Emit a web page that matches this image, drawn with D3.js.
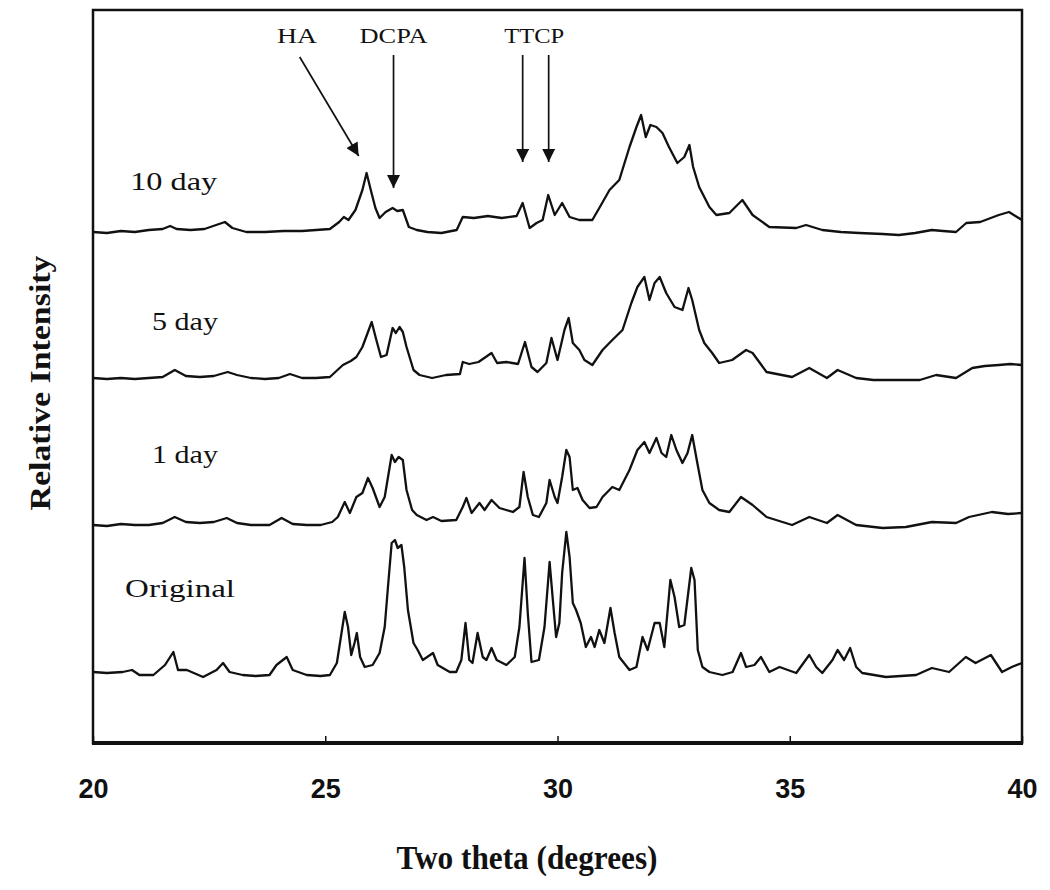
<!DOCTYPE html>
<html>
<head>
<meta charset="utf-8">
<script src="https://cdn.jsdelivr.net/npm/d3@7"></script>
<style>
  body { margin: 0; background: #fff; }
  svg { display: block; }
</style>
</head>
<body>
<div id="chart"></div>
<script>
// [two theta, intensity above the trace's own baseline]
const original = [
  [20.0, 8], [20.3, 7], [20.64, 8], [20.84, 10], [21.0, 5], [21.3, 5], [21.55, 15], [21.73, 28], [21.83, 10],
  [22.02, 10], [22.37, 3], [22.66, 10], [22.8, 17], [22.94, 8], [23.22, 5], [23.5, 4], [23.8, 5], [23.95, 15],
  [24.17, 23], [24.3, 10], [24.6, 5], [24.9, 4], [25.1, 5], [25.25, 17], [25.35, 47], [25.42, 68], [25.49, 53],
  [25.56, 25], [25.63, 37], [25.68, 47], [25.75, 23], [25.85, 13], [26.02, 15], [26.17, 27], [26.28, 53],
  [26.35, 93], [26.43, 137], [26.5, 140], [26.56, 132], [26.64, 135], [26.7, 113], [26.78, 70], [26.9, 37],
  [26.99, 30], [27.1, 20], [27.32, 27], [27.42, 15], [27.68, 8], [27.82, 8], [27.93, 20], [28.02, 57],
  [28.1, 20], [28.17, 17], [28.28, 47], [28.39, 23], [28.47, 20], [28.58, 32], [28.69, 20], [28.9, 15],
  [29.08, 23], [29.18, 53], [29.29, 122], [29.36, 67], [29.44, 18], [29.6, 20], [29.72, 53], [29.83, 118],
  [29.9, 80], [29.97, 43], [30.04, 57], [30.1, 107], [30.19, 148], [30.26, 123], [30.33, 77], [30.4, 70],
  [30.5, 57], [30.61, 33], [30.72, 43], [30.8, 33], [30.9, 50], [31.01, 37], [31.14, 72], [31.23, 47],
  [31.33, 23], [31.55, 10], [31.7, 13], [31.83, 43], [31.94, 30], [32.09, 57], [32.2, 57], [32.3, 33],
  [32.43, 100], [32.52, 83], [32.62, 53], [32.73, 55], [32.88, 112], [32.95, 100], [33.02, 30], [33.12, 13],
  [33.27, 8], [33.55, 5], [33.77, 8], [33.95, 27], [34.06, 13], [34.24, 15], [34.38, 23], [34.56, 8],
  [34.78, 13], [35.14, 7], [35.42, 25], [35.57, 13], [35.7, 7], [35.92, 20], [36.03, 30], [36.17, 20],
  [36.3, 32], [36.43, 13], [36.56, 7], [37.07, 3], [37.72, 5], [38.06, 12], [38.43, 8], [38.79, 23],
  [39.0, 17], [39.33, 25], [39.57, 8], [39.78, 13], [40.0, 17]
];

const day1 = [
  [20.0, 5], [20.3, 4], [20.6, 6], [20.9, 5], [21.2, 5], [21.5, 7], [21.76, 13], [22.0, 8], [22.3, 7],
  [22.6, 8], [22.88, 12], [23.1, 7], [23.4, 5], [23.8, 5], [24.06, 12], [24.3, 6], [24.6, 5], [24.9, 5],
  [25.15, 8], [25.27, 13], [25.42, 28], [25.53, 17], [25.67, 33], [25.8, 37], [25.92, 52], [26.02, 42],
  [26.17, 23], [26.28, 33], [26.43, 75], [26.5, 68], [26.58, 73], [26.67, 70], [26.75, 40], [26.87, 20],
  [26.97, 15], [27.18, 10], [27.32, 13], [27.5, 9], [27.82, 10], [27.96, 23], [28.04, 32], [28.15, 17],
  [28.32, 27], [28.43, 20], [28.58, 30], [28.75, 22], [29.04, 18], [29.18, 23], [29.27, 58], [29.36, 33],
  [29.47, 15], [29.6, 13], [29.76, 27], [29.83, 50], [29.94, 33], [30.0, 27], [30.1, 53], [30.19, 80],
  [30.26, 73], [30.33, 40], [30.43, 42], [30.54, 30], [30.69, 22], [30.84, 23], [30.97, 33], [31.18, 43],
  [31.33, 40], [31.55, 60], [31.72, 80], [31.87, 88], [31.98, 77], [32.13, 92], [32.24, 77], [32.34, 73],
  [32.45, 95], [32.56, 80], [32.69, 67], [32.8, 77], [32.9, 95], [33.01, 67], [33.12, 40], [33.27, 27],
  [33.48, 20], [33.7, 18], [33.95, 33], [34.2, 25], [34.5, 13], [35.05, 5], [35.42, 13], [35.8, 7],
  [36.03, 15], [36.43, 5], [37.0, 2], [37.5, 3], [38.06, 8], [38.58, 7], [38.86, 13], [39.35, 18],
  [39.7, 16], [40.0, 17]
];

const day5 = [
  [20.0, 7], [20.3, 6], [20.6, 7], [20.9, 6], [21.2, 7], [21.5, 8], [21.76, 15], [22.0, 9], [22.3, 8],
  [22.6, 9], [22.9, 13], [23.1, 10], [23.4, 7], [23.7, 6], [24.0, 7], [24.24, 11], [24.5, 7], [24.8, 7],
  [25.1, 8], [25.38, 20], [25.55, 24], [25.67, 28], [25.8, 38], [26.0, 63], [26.1, 45], [26.2, 28],
  [26.32, 30], [26.45, 57], [26.52, 52], [26.6, 58], [26.67, 53], [26.75, 38], [26.9, 15], [27.03, 10],
  [27.3, 7], [27.6, 10], [27.9, 11], [27.96, 23], [28.1, 21], [28.3, 23], [28.58, 32], [28.7, 22],
  [28.9, 23], [29.15, 21], [29.3, 43], [29.44, 18], [29.57, 13], [29.76, 22], [29.87, 47], [30.0, 25],
  [30.15, 55], [30.24, 67], [30.33, 42], [30.47, 35], [30.58, 25], [30.75, 20], [30.97, 35], [31.18, 45],
  [31.4, 55], [31.59, 82], [31.72, 98], [31.87, 108], [31.98, 85], [32.09, 102], [32.2, 108], [32.34, 92],
  [32.52, 78], [32.69, 75], [32.82, 97], [32.9, 85], [33.05, 55], [33.16, 42], [33.33, 32], [33.48, 22],
  [33.76, 25], [34.06, 35], [34.2, 32], [34.5, 13], [35.05, 8], [35.42, 17], [35.8, 7], [36.03, 15],
  [36.43, 7], [36.8, 5], [37.3, 5], [37.8, 5], [38.15, 10], [38.58, 7], [38.93, 17], [39.2, 19],
  [39.5, 20], [39.75, 21], [40.0, 20]
];

const day10 = [
  [20.0, 6], [20.3, 5], [20.6, 7], [20.9, 6], [21.2, 8], [21.5, 9], [21.66, 12], [21.8, 9], [22.1, 8],
  [22.4, 9], [22.84, 16], [23.0, 10], [23.3, 6], [23.7, 6], [24.1, 7], [24.5, 7], [24.8, 8], [25.1, 9],
  [25.3, 16], [25.4, 21], [25.5, 18], [25.65, 28], [25.8, 48], [25.89, 65], [25.98, 48], [26.08, 30],
  [26.17, 20], [26.3, 26], [26.45, 30], [26.55, 27], [26.67, 28], [26.8, 11], [26.97, 8], [27.2, 6],
  [27.5, 5], [27.83, 8], [27.96, 21], [28.2, 20], [28.5, 22], [28.8, 20], [29.12, 22], [29.25, 35],
  [29.4, 10], [29.55, 15], [29.68, 18], [29.8, 43], [29.94, 23], [30.1, 35], [30.26, 21], [30.47, 18],
  [30.75, 18], [30.9, 30], [31.12, 48], [31.33, 58], [31.55, 91], [31.7, 111], [31.8, 123], [31.9, 101],
  [32.0, 113], [32.13, 111], [32.26, 105], [32.4, 91], [32.58, 75], [32.73, 81], [32.84, 93], [32.92, 71],
  [33.05, 51], [33.27, 31], [33.42, 23], [33.7, 25], [33.98, 38], [34.2, 23], [34.56, 11], [35.14, 10],
  [35.35, 13], [35.7, 8], [36.1, 6], [36.5, 5], [37.0, 4], [37.35, 3], [37.7, 5], [38.06, 8], [38.3, 7],
  [38.58, 6], [38.8, 15], [39.1, 16], [39.5, 23], [39.72, 26], [40.0, 18]
];

const seriesNames = ["Original", "1 day", "5 day", "10 day"];
const seriesData = [original, day1, day5, day10];
const seriesOffsets = [63, 213, 358, 505];

const xTicks = [20, 25, 30, 35, 40];

// phase markers
const markerLabels = ["HA", "DCPA", "TTCP"];
const markerLabelX = [24.39, 26.47, 29.5];
const markerArrows = [
  [[24.45, 686], [25.72, 587]],
  [[26.47, 688], [26.47, 555]],
  [[29.25, 688], [29.25, 581]],
  [[29.81, 688], [29.81, 581]]
];

const config = {
  width: 1050,
  height: 890,
  plot: { left: 93, right: 1022, top: 10, bottom: 743 }
};

const svg = d3.select("#chart").append("svg")
  .attr("width", config.width)
  .attr("height", config.height);

const x = d3.scaleLinear().domain([20, 40]).range([config.plot.left, config.plot.right]);
const y = d3.scaleLinear().domain([0, 733]).range([config.plot.bottom, config.plot.top]);

// traces
const line = d3.line()
  .x(d => x(d[0]))
  .y(d => y(d[1]));

svg.append("g")
  .selectAll("path")
  .data(seriesData)
  .join("path")
  .attr("fill", "none")
  .attr("stroke", "#111")
  .attr("stroke-width", 2.3)
  .attr("stroke-linejoin", "round")
  .attr("d", (d, i) => line(d.map(p => [p[0], p[1] + seriesOffsets[i]])));

// series labels
const seriesLabelX = [20.69, 21.27, 21.27, 20.8];
const seriesLabelY = [146, 280, 413, 553];
const seriesLabelLen = [110, 66, 66, 87];
svg.append("g")
  .selectAll("text")
  .data(seriesNames)
  .join("text")
  .attr("x", (d, i) => x(seriesLabelX[i]))
  .attr("y", (d, i) => y(seriesLabelY[i]))
  .attr("textLength", (d, i) => seriesLabelLen[i])
  .attr("lengthAdjust", "spacingAndGlyphs")
  .attr("font-family", "'Liberation Serif', 'Times New Roman', serif")
  .attr("font-size", 26)
  .attr("fill", "#111")
  .text(d => d);

// arrows
svg.append("defs").append("marker")
  .attr("id", "head")
  .attr("viewBox", "0 0 10 10")
  .attr("refX", 10)
  .attr("refY", 5)
  .attr("markerWidth", 14)
  .attr("markerHeight", 13)
  .attr("markerUnits", "userSpaceOnUse")
  .attr("orient", "auto")
  .append("path")
  .attr("d", "M0,0 L10,5 L0,10 Z")
  .attr("fill", "#111");

svg.append("g")
  .selectAll("line")
  .data(markerArrows)
  .join("line")
  .attr("x1", d => x(d[0][0]))
  .attr("y1", d => y(d[0][1]))
  .attr("x2", d => x(d[1][0]))
  .attr("y2", d => y(d[1][1]))
  .attr("stroke", "#111")
  .attr("stroke-width", 1.7)
  .attr("marker-end", "url(#head)");

const markerLen = [40, 68, 60];
svg.append("g")
  .selectAll("text")
  .data(markerLabels)
  .join("text")
  .attr("x", (d, i) => x(markerLabelX[i]))
  .attr("y", 43)
  .attr("text-anchor", "middle")
  .attr("textLength", (d, i) => markerLen[i])
  .attr("lengthAdjust", "spacingAndGlyphs")
  .attr("font-family", "'Liberation Serif', 'Times New Roman', serif")
  .attr("font-size", 22)
  .attr("fill", "#111")
  .text(d => d);

// x axis, ticks point inward
const xAxis = d3.axisBottom(x)
  .tickValues(xTicks)
  .tickSizeInner(-7)
  .tickSizeOuter(0)
  .tickPadding(36)
  .tickFormat(d3.format("d"));

const gx = svg.append("g")
  .attr("transform", `translate(0,${config.plot.bottom})`)
  .call(xAxis);
gx.select(".domain").remove();
gx.selectAll(".tick line").attr("stroke", "#111").attr("stroke-width", 1.5);
gx.selectAll(".tick text")
  .attr("font-family", "'Liberation Sans', Arial, sans-serif")
  .attr("font-weight", "bold")
  .attr("font-size", 27)
  .attr("fill", "#111");

// frame
svg.append("rect")
  .attr("x", config.plot.left)
  .attr("y", config.plot.top)
  .attr("width", config.plot.right - config.plot.left)
  .attr("height", config.plot.bottom - config.plot.top)
  .attr("fill", "none")
  .attr("stroke", "#111")
  .attr("stroke-width", 2.5);
svg.append("line")
  .attr("x1", config.plot.left - 1)
  .attr("x2", config.plot.right + 1)
  .attr("y1", config.plot.bottom)
  .attr("y2", config.plot.bottom)
  .attr("stroke", "#111")
  .attr("stroke-width", 4);

// axis titles
svg.append("text")
  .attr("x", 527)
  .attr("y", 869)
  .attr("text-anchor", "middle")
  .attr("textLength", 261)
  .attr("lengthAdjust", "spacingAndGlyphs")
  .attr("font-family", "'Liberation Serif', 'Times New Roman', serif")
  .attr("font-weight", "bold")
  .attr("font-size", 33)
  .attr("fill", "#111")
  .text("Two theta (degrees)");

svg.append("text")
  .attr("transform", "translate(50,383) rotate(-90)")
  .attr("text-anchor", "middle")
  .attr("textLength", 255)
  .attr("lengthAdjust", "spacingAndGlyphs")
  .attr("font-family", "'Liberation Serif', 'Times New Roman', serif")
  .attr("font-weight", "bold")
  .attr("font-size", 30)
  .attr("fill", "#111")
  .text("Relative Intensity");
</script>
</body>
</html>
